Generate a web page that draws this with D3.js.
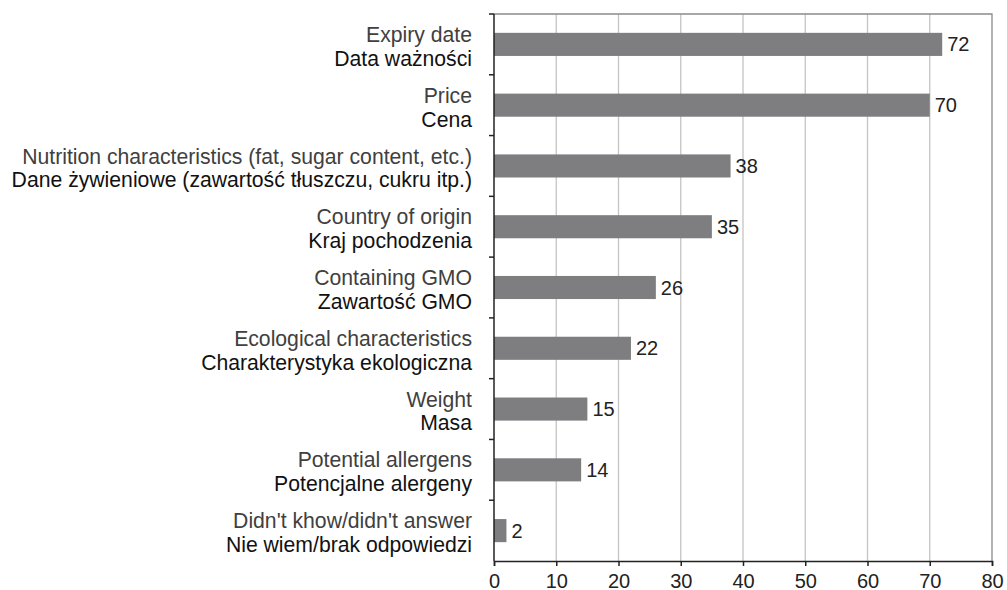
<!DOCTYPE html>
<html>
<head>
<meta charset="utf-8">
<script src="https://cdn.jsdelivr.net/npm/d3@7"></script>
<style>
  body { margin: 0; background: #fff; }
  text { font-family: "Liberation Sans", Arial, sans-serif; }
</style>
</head>
<body>
<div id="vis"></div>
<script>
// Category labels, English and Polish lines
var labelsEn = [
  'Expiry date',
  'Price',
  'Nutrition characteristics (fat, sugar content, etc.)',
  'Country of origin',
  'Containing GMO',
  'Ecological characteristics',
  'Weight',
  'Potential allergens',
  "Didn't khow/didn't answer"
];
var labelsPl = [
  'Data ważności',
  'Cena',
  'Dane żywieniowe (zawartość tłuszczu, cukru itp.)',
  'Kraj pochodzenia',
  'Zawartość GMO',
  'Charakterystyka ekologiczna',
  'Masa',
  'Potencjalne alergeny',
  'Nie wiem/brak odpowiedzi'
];
var values = [72, 70, 38, 35, 26, 22, 15, 14, 2];
var xTicks = [0, 10, 20, 30, 40, 50, 60, 70, 80];

var width = 1007;
var height = 590;
var margin = { top: 14, left: 494, bottom: 29, right: 15 };
var innerW = width - margin.left - margin.right;
var innerH = height - margin.top - margin.bottom;
var fontSize = '20px';

var svg = d3.select('#vis').append('svg')
  .attr('width', width)
  .attr('height', height);

var g = svg.append('g')
  .attr('transform', 'translate(' + margin.left + ',' + margin.top + ')');

var x = d3.scaleLinear().domain([0, 80]).range([0, innerW]);
var y = d3.scaleBand()
  .domain(d3.range(values.length))
  .range([0, innerH])
  .paddingInner(0.62)
  .paddingOuter(0.31);

var step = y.step();

// vertical gridlines
g.selectAll('.grid').data(xTicks.slice(1, -1))
  .enter().append('line')
  .attr('class', 'grid')
  .attr('x1', function (d) { return x(d); })
  .attr('x2', function (d) { return x(d); })
  .attr('y1', 0)
  .attr('y2', innerH)
  .attr('stroke', '#c4c4c4')
  .attr('stroke-width', 1.3);

// plot border top + right
g.append('path')
  .attr('d', 'M0,0H' + x(80) + 'V' + innerH)
  .attr('fill', 'none')
  .attr('stroke', '#8a8a8a')
  .attr('stroke-width', 1.3);

// bars
g.selectAll('.bar').data(values)
  .enter().append('rect')
  .attr('class', 'bar')
  .attr('x', 0)
  .attr('y', function (d, i) { return y(i); })
  .attr('width', function (d) { return x(d); })
  .attr('height', y.bandwidth())
  .attr('fill', '#7e7e80');

// value labels
g.selectAll('.bar-text').data(values)
  .enter().append('text')
  .attr('class', 'bar-text')
  .attr('x', function (d) { return x(d) + 5; })
  .attr('y', function (d, i) { return y(i) + y.bandwidth() / 2 + 7; })
  .style('font-size', fontSize)
  .attr('fill', '#222')
  .text(function (d) { return d; });

// y axis line and ticks at category boundaries
g.append('line')
  .attr('x1', 0).attr('x2', 0)
  .attr('y1', 0).attr('y2', innerH)
  .attr('stroke', '#222')
  .attr('stroke-width', 1.5);

g.selectAll('.ytick').data(d3.range(values.length))
  .enter().append('line')
  .attr('class', 'ytick')
  .attr('x1', -5).attr('x2', 0)
  .attr('y1', function (d) { return d * step; })
  .attr('y2', function (d) { return d * step; })
  .attr('stroke', '#222')
  .attr('stroke-width', 1.5);

// category labels
var labels = g.selectAll('.cat').data(d3.range(values.length))
  .enter().append('text')
  .attr('class', 'cat')
  .attr('text-anchor', 'end')
  .style('font-size', '21.2px');

labels.append('tspan')
  .attr('x', -22)
  .attr('y', function (d) { return y(d) + y.bandwidth() / 2 - 2.4; })
  .attr('fill', '#404040')
  .text(function (d) { return labelsEn[d]; });

labels.append('tspan')
  .attr('x', -22)
  .attr('y', function (d) { return y(d) + y.bandwidth() / 2 + 21.4; })
  .attr('fill', '#111')
  .text(function (d) { return labelsPl[d]; });

// x axis
var xAxis = d3.axisBottom(x)
  .tickValues(xTicks)
  .tickSize(5)
  .tickPadding(8);

var ax = g.append('g')
  .attr('class', 'x axis')
  .attr('transform', 'translate(0,' + innerH + ')')
  .call(xAxis);

ax.select('.domain').attr('stroke', '#222').attr('stroke-width', 1.5);
ax.selectAll('.tick line').attr('stroke', '#222').attr('stroke-width', 1.5);
ax.selectAll('.tick text')
  .style('font-size', fontSize)
  .style('font-family', '"Liberation Sans", Arial, sans-serif')
  .attr('fill', '#222');
</script>
</body>
</html>
